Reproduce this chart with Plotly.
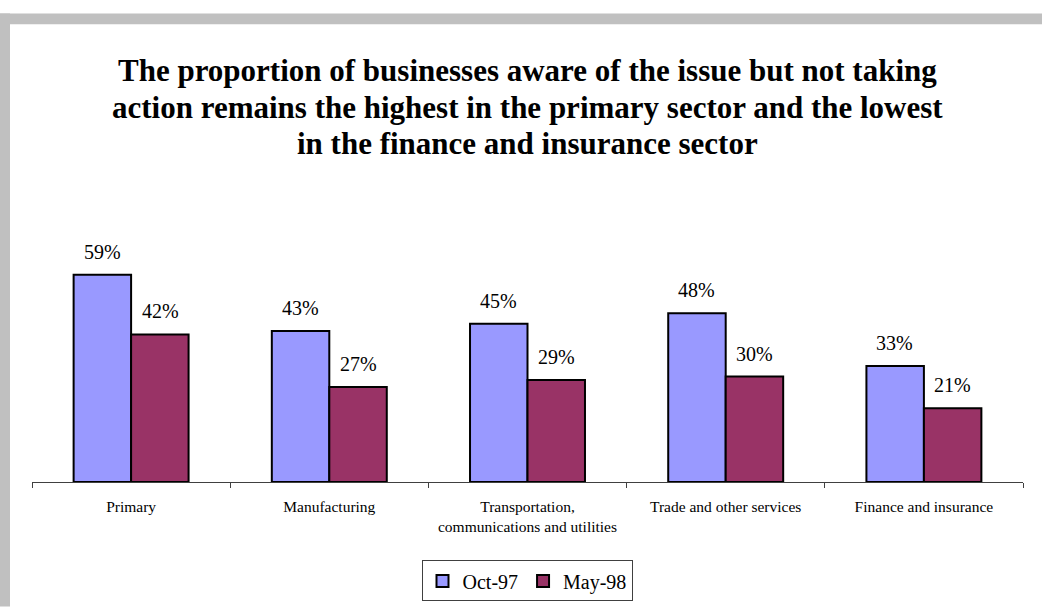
import plotly.graph_objects as go

sectors = ["Primary", "Manufacturing", "Transportation,<br>communications and utilities",
           "Trade and other services", "Finance and insurance"]
oct97 = [59, 43, 45, 48, 33]
may98 = [42, 27, 29, 30, 21]
series_names = ["Oct-97", "May-98"]

W, H = 1042, 614
L, R, T, B = 32, 19, 236, 127
pw, ph = W - L - R, H - T - B

def px_x(x):
    return (x - L) / pw

def px_y(y):
    return (H - B - y) / ph

serif = "Liberation Serif"

fig = go.Figure()
fig.add_trace(go.Bar(x=sectors, y=oct97, name=series_names[0],
                     marker=dict(color="#9999FF", line=dict(color="black", width=2))))
fig.add_trace(go.Bar(x=sectors, y=may98, name=series_names[1],
                     marker=dict(color="#993366", line=dict(color="black", width=2))))

annotations = []
# value labels above each bar
for i, s in enumerate(sectors):
    for k, vals in enumerate([oct97, may98]):
        annotations.append(dict(
            x=i, y=vals[i], xref="x", yref="y", text=f"{vals[i]}%",
            showarrow=False, xshift=(-29 if k == 0 else 29), yshift=23,
            yanchor="middle", font=dict(family=serif, size=20, color="black")))

# three-line bold title
title_lines = [
    "The proportion of businesses aware of the issue but not taking",
    "action remains the highest in the primary sector and the lowest",
    "in the finance and insurance sector",
]
for j, line in enumerate(title_lines):
    annotations.append(dict(
        x=px_x(527), y=px_y(67 + 37.5 * j), xref="paper", yref="paper",
        text=f"<b>{line}</b>", showarrow=False, yanchor="middle", xanchor="center",
        font=dict(family=serif, size=31, color="black")))

shapes = [
    # grey frame strips
    dict(type="rect", xref="paper", yref="paper", x0=px_x(0), x1=px_x(W),
         y0=px_y(20), y1=px_y(9), fillcolor="#C0C0C0", line=dict(width=0), layer="below"),
    dict(type="rect", xref="paper", yref="paper", x0=px_x(0), x1=px_x(10),
         y0=px_y(H), y1=px_y(9), fillcolor="#C0C0C0", line=dict(width=0), layer="below"),
]

fig.update_layout(
    width=W, height=H,
    margin=dict(l=L, r=R, t=T, b=B),
    paper_bgcolor="white", plot_bgcolor="white",
    barmode="group", bargap=0.42, bargroupgap=0,
    showlegend=True,
    font=dict(family=serif, color="black"),
    legend=dict(orientation="h", x=px_x(527), xanchor="center", y=px_y(588), yanchor="middle",
                bordercolor="#404040", borderwidth=1, bgcolor="white",
                font=dict(family=serif, size=20, color="black"),
                itemwidth=30, tracegroupgap=0),
    xaxis=dict(type="category", tickson="boundaries", ticks="outside", ticklen=5,
               tickcolor="#404040", showline=True, linecolor="#404040", linewidth=1,
               showgrid=False, ticklabelstandoff=10,
               tickfont=dict(family=serif, size=15.5, color="black")),
    yaxis=dict(range=[0, 70], visible=False, showgrid=False, zeroline=False),
    annotations=annotations,
    shapes=shapes,
)

fig.write_html("out.html")
